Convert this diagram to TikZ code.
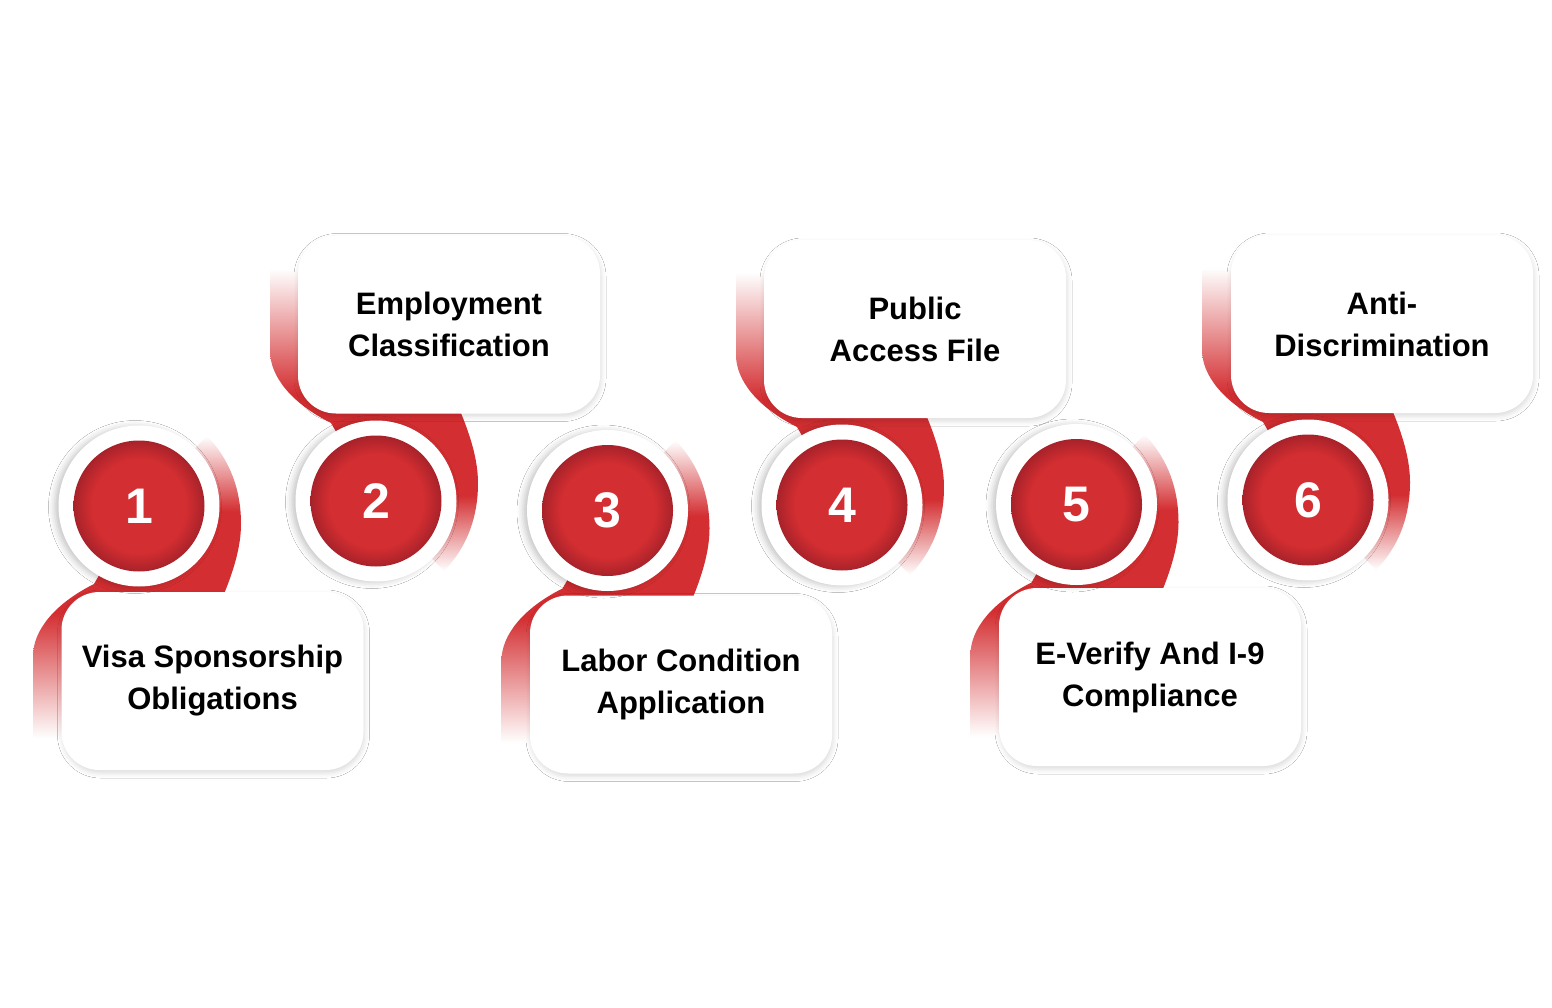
\documentclass[tikz,border=0pt]{standalone}
\usepackage{fontspec}
\setmainfont{Liberation Sans}
\usetikzlibrary{shadows.blur}

\definecolor{stepred}{HTML}{D32E31}
\definecolor{stepdark}{HTML}{A8222A}

% fades at both ends of the red band
\pgfdeclareverticalshading{ribboneven}{100bp}{color(0bp)=(white); color(25bp)=(white); color(37bp)=(stepred); color(53bp)=(stepred); color(73bp)=(white); color(100bp)=(white)}
\pgfdeclareverticalshading{ribbonodd}{100bp}{color(0bp)=(white); color(27bp)=(white); color(47bp)=(stepred); color(63bp)=(stepred); color(75bp)=(white); color(100bp)=(white)}
\pgfdeclareradialshading{discshade}{\pgfpoint{0bp}{0bp}}{color(0bp)=(stepred); color(18bp)=(stepred); color(25bp)=(stepdark); color(50bp)=(stepdark)}

\tikzset{
  ring/.style={circle, fill=white, minimum size=161pt, inner sep=0pt,
    blur shadow={shadow xshift=-4pt, shadow yshift=-1pt, shadow blur radius=6pt, shadow opacity=22}},
  disc/.style={circle, shading=discshade, minimum size=131pt, inner sep=0pt,
    text=white, font=\fontsize{50}{50}\selectfont\bfseries},
  stepbox/.style={rounded corners=38pt, fill=white, minimum width=302pt, minimum height=178pt,
    align=center, text=black, font=\fontsize{31}{42}\selectfont\bfseries,
    blur shadow={shadow xshift=1pt, shadow yshift=-3pt, shadow blur radius=5pt, shadow opacity=14}}
}

\begin{document}
\begin{tikzpicture}[x=1pt, y=-1pt]
  \useasboundingbox[fill=white] (0,0) rectangle (1552,1008);
  \foreach \n/\cx/\cy/\bx/\by/\s/\shd/\txt in {
      1/139/506/212.5/681/-1/ribbonodd/{Visa Sponsorship\\Obligations},
      2/376/501/449/324.5/1/ribboneven/{Employment\\Classification},
      3/607.5/510.5/681/684.5/-1/ribbonodd/{Labor Condition\\Application},
      4/842/505/915/329/1/ribboneven/{Public\\Access File},
      5/1076.5/504.5/1150/677/-1/ribbonodd/{E-Verify And I-9\\Compliance},
      6/1308/500/1382/324/1/ribboneven/{Anti-\\Discrimination}} {
    % red band behind box and circle
    \begin{scope}[shift={(\cx,\cy)}, yscale=\s]
      \path[shading=\shd] (-60,-245) -- (-98,-245) .. controls (-104,-245) and (-106,-240) .. (-106,-232)
        -- (-106,-150) .. controls (-106,-125) and (-85,-98) .. (-45,-78) -- (0,0) -- (68,70)
        .. controls (92,45) and (102,15) .. (102,-18) .. controls (102,-40) and (95,-65) .. (82,-95)
        -- (60,-200) -- cycle;
    \end{scope}
    \node[stepbox] (box\n) at (\bx,\by) {\txt};
    \node[ring] (ring\n) at (\cx,\cy) {};
    \node[disc] (num\n) at (ring\n) {\n};
  }
\end{tikzpicture}
\end{document}
